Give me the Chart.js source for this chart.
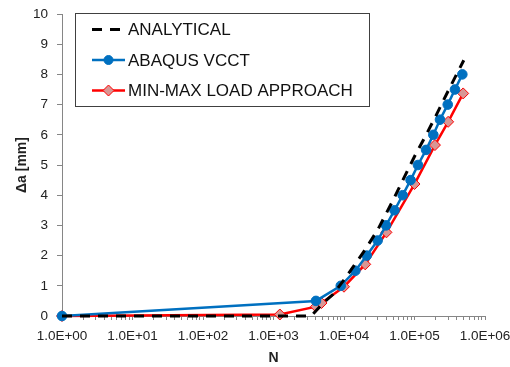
<!DOCTYPE html>
<html>
<head>
<meta charset="utf-8">
<script src="https://cdn.jsdelivr.net/npm/chart.js@4.4.1/dist/chart.umd.min.js"></script>
<style>
  html, body { margin: 0; padding: 0; background: #fff; }
  canvas { display: block; }
</style>
</head>
<body>
<canvas id="crackChart" width="510" height="367"></canvas>
<script>
// ---- data ----
var seriesNames = ['ANALYTICAL', 'ABAQUS VCCT', 'MIN-MAX LOAD APPROACH'];

var analyticalN  = [1, 3000, 3500, 5000, 7000, 10000, 15000, 20000, 30000, 50000, 70000, 100000, 150000, 200000, 300000, 500000];
var analyticalDa = [0, 0, 0.02, 0.42, 0.72, 1.2, 1.78, 2.2, 2.85, 3.85, 4.55, 5.28, 6.05, 6.62, 7.45, 8.47];

var abaqusN  = [1, 4000, 9000, 14500, 21000, 30000, 39500, 52000, 68000, 88000, 112000, 146000, 185000, 230000, 296000, 375000, 477000];
var abaqusDa = [0, 0.5, 1.0, 1.5, 2.0, 2.5, 3.0, 3.5, 4.0, 4.5, 5.0, 5.5, 6.0, 6.5, 7.0, 7.5, 8.0];

var minMaxN  = [1, 1230, 4000, 4800, 10000, 20000, 40000, 100000, 195000, 300000, 490000];
var minMaxDa = [0, 0.05, 0.31, 0.43, 0.97, 1.71, 2.77, 4.37, 5.66, 6.43, 7.37];

var xMin = 1, xMax = 1e6;
var yMin = 0, yMax = 10, yStep = 1;
var xTitle = 'N';
var yTitle = 'Δa [mm]';

function toPoints(xs, ys) {
    var pts = [];
    for (var i = 0; i < xs.length; i++) pts.push({x: xs[i], y: ys[i]});
    return pts;
}

function sciLabel(v) {
    var s = String(v);
    if (!/^10*$/.test(s)) return '';
    var e = s.length - 1;
    return '1.0E+' + (e < 10 ? '0' + e : e);
}

var axisGray = '#868686';

// legend drawn inside a framed box like the original
var boxLegend = {
    id: 'boxLegend',
    afterDraw: function(chart) {
        var ctx = chart.ctx;
        var sets = chart.data.datasets;
        var bx = 75.5, by = 13.5, bw = 294, bh = 93;
        ctx.save();
        ctx.fillStyle = '#fff';
        ctx.fillRect(bx, by, bw, bh);
        ctx.strokeStyle = '#404040';
        ctx.lineWidth = 1;
        ctx.strokeRect(bx, by, bw, bh);
        for (var i = 0; i < sets.length; i++) {
            var d = sets[i];
            var y = 29.5 + i * 30.5;
            ctx.beginPath();
            ctx.strokeStyle = d.borderColor;
            ctx.lineWidth = d.borderWidth;
            ctx.setLineDash(d.borderDash || []);
            ctx.moveTo(92, y);
            ctx.lineTo(125, y);
            ctx.stroke();
            ctx.setLineDash([]);
            if (d.pointRadius > 0) {
                ctx.fillStyle = d.pointBackgroundColor;
                ctx.strokeStyle = d.pointBorderColor;
                ctx.lineWidth = d.pointBorderWidth;
                Chart.helpers.drawPoint(ctx, {
                    pointStyle: d.pointStyle,
                    rotation: 0,
                    radius: d.pointStyle === 'circle' ? 4.5 : 5.5,
                    borderWidth: d.pointBorderWidth
                }, 108.5, y);
            }
            ctx.fillStyle = '#111';
            ctx.font = '17px "Liberation Sans"';
            ctx.textBaseline = 'middle';
            ctx.textAlign = 'left';
            ctx.fillText(d.label, 128, y + 1);
        }
        ctx.restore();
    }
};

Chart.defaults.font.family = '"Liberation Sans", Arial, sans-serif';
Chart.defaults.color = '#222';

var ctx = document.getElementById('crackChart').getContext('2d');
var chart = new Chart(ctx, {
    type: 'line',
    data: {
        datasets: [
            {
                label: seriesNames[0],
                data: toPoints(analyticalN, analyticalDa),
                borderColor: '#000',
                borderWidth: 3,
                borderDash: [10, 8],
                pointRadius: 0,
                clip: false
            },
            {
                label: seriesNames[1],
                data: toPoints(abaqusN, abaqusDa),
                borderColor: '#0070C0',
                borderWidth: 2.5,
                pointStyle: 'circle',
                pointRadius: 4.8,
                pointBackgroundColor: '#0070C0',
                pointBorderColor: '#0070C0',
                pointBorderWidth: 1,
                clip: false
            },
            {
                label: seriesNames[2],
                data: toPoints(minMaxN, minMaxDa),
                borderColor: '#FF0000',
                borderWidth: 2.5,
                pointStyle: 'rectRot',
                pointRadius: 5.5,
                pointBackgroundColor: '#D99694',
                pointBorderColor: '#FF0000',
                pointBorderWidth: 1,
                clip: false
            }
        ]
    },
    options: {
        responsive: false,
        animation: false,
        layout: { padding: { left: 0, top: 14, right: 25, bottom: 0 } },
        plugins: {
            legend: { display: false },
            tooltip: { enabled: false }
        },
        scales: {
            x: {
                type: 'logarithmic',
                min: xMin,
                max: xMax,
                border: { color: axisGray, width: 1 },
                grid: { drawOnChartArea: false, drawTicks: true, tickLength: 4, color: axisGray },
                ticks: {
                    autoSkip: false,
                    maxRotation: 0,
                    padding: 8,
                    font: { size: 13.5 },
                    callback: function(v) { return sciLabel(v); }
                },
                title: { display: true, text: xTitle, font: { size: 14, weight: 'bold' }, padding: { top: 0, bottom: 0 } },
                afterBuildTicks: function(scale) {
                    var t = [];
                    for (var e = 0; e <= 6; e++) {
                        for (var m = 1; m <= 9; m++) {
                            var v = m * Math.pow(10, e);
                            if (v <= xMax) t.push({value: v});
                        }
                    }
                    scale.ticks = t;
                },
                afterFit: function(scale) {
                    scale.height = 51;
                    scale.paddingLeft = 0;
                    scale.paddingRight = 0;
                }
            },
            y: {
                min: yMin,
                max: yMax,
                border: { color: axisGray, width: 1 },
                grid: { drawOnChartArea: false, drawTicks: true, tickLength: 5, color: axisGray },
                ticks: { stepSize: yStep, padding: 9, font: { size: 13.5 } },
                title: { display: true, text: yTitle, font: { size: 14, weight: 'bold' }, padding: { top: 14, bottom: 0 } },
                afterFit: function(scale) {
                    scale.width = 62;
                    scale.paddingTop = 0;
                    scale.paddingBottom = 0;
                }
            }
        }
    },
    plugins: [boxLegend]
});
</script>
</body>
</html>
